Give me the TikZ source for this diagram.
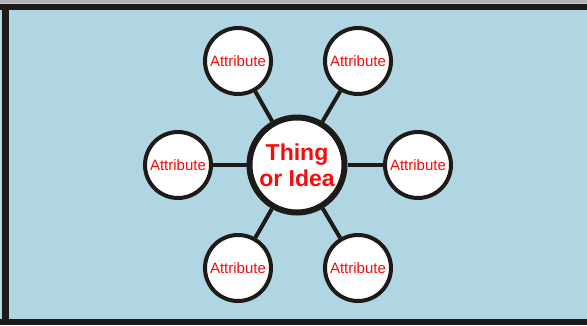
\documentclass[tikz,border=0pt]{standalone}
\usepackage{fontspec}
\setmainfont{Liberation Sans}
\usetikzlibrary{backgrounds}
\definecolor{bg}{RGB}{176,214,228}
\definecolor{frame}{RGB}{30,26,24}
\definecolor{txt}{RGB}{250,10,10}
\begin{document}
\begin{tikzpicture}[x=1pt,y=-1pt,
  attr/.style={circle,draw=frame,line width=4pt,fill=white,minimum size=66pt,inner sep=0pt,text=txt,font=\fontsize{15}{17}\selectfont},
  core/.style={circle,draw=frame,line width=6pt,fill=white,minimum size=95pt,inner sep=0pt,text=txt,font=\fontsize{23}{26}\selectfont\bfseries,align=center},
  link/.style={draw=frame,line width=4pt}]
\useasboundingbox (0,0) rectangle (587,325);
\node[core] (c) at (297,165) {Thing\\or Idea};
\node[attr] (a1) at (238,61) {Attribute};
\node[attr] (a2) at (358,61) {Attribute};
\node[attr] (a3) at (178,165) {Attribute};
\node[attr] (a4) at (418,165) {Attribute};
\node[attr] (a5) at (238,268) {Attribute};
\node[attr] (a6) at (358,268) {Attribute};
\begin{scope}[on background layer]
\fill[bg] (0,0) rectangle (587,325);
\fill[gray!60] (0,0) rectangle (587,3);
\fill[frame] (0,3.5) rectangle (587,10);
\fill[frame] (2,3.5) rectangle (8.5,325);
\fill[frame] (0,319) rectangle (587,325);
\foreach \n in {a1,a2,a3,a4,a5,a6} {\path[link] (c) -- (\n);}
\end{scope}
\end{tikzpicture}
\end{document}
